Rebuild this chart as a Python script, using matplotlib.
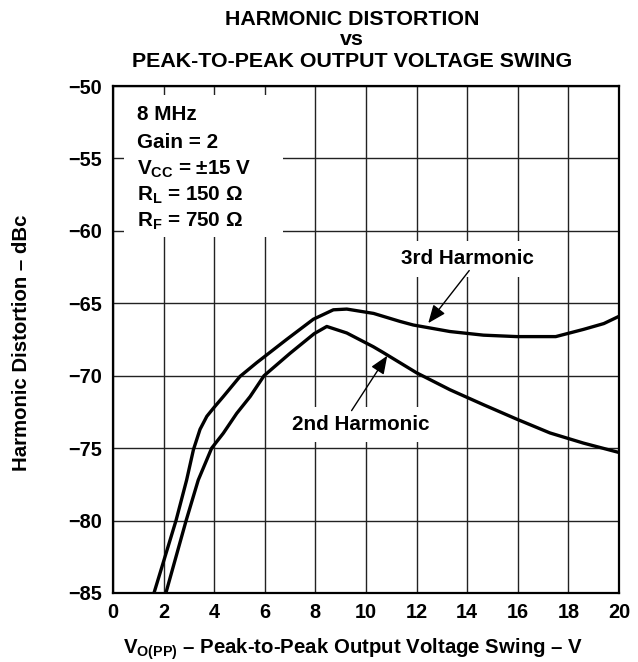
import matplotlib
matplotlib.use("Agg")
import matplotlib.pyplot as plt
from matplotlib.patches import Rectangle

# data
x_3rd = [1.62, 2.49, 2.91, 3.18, 3.44, 3.71, 3.97, 4.36, 5.02, 5.68, 6.86, 7.92, 8.71, 9.24,
         10.3, 11.34, 11.87, 13.32, 14.64, 15.96, 17.5, 18.6, 19.4, 20.0]
y_3rd = [-85, -80.0, -77.2, -75.1, -73.7, -72.8, -72.24, -71.44, -70.05, -69.1, -67.5, -66.1, -65.45, -65.4,
         -65.7, -66.25, -66.5, -66.95, -67.2, -67.3, -67.3, -66.8, -66.4, -65.9]

x_2nd = [2.09, 2.89, 3.37, 3.9, 4.36, 4.89, 5.42, 5.97, 7.0, 7.95, 8.45, 9.24, 10.29, 10.68,
         12.0, 13.32, 14.64, 15.96, 17.27, 18.59, 20.0]
y_2nd = [-85, -80.0, -77.2, -75.0, -73.97, -72.6, -71.44, -70.0, -68.45, -67.1, -66.6, -67.05, -68.0, -68.4,
         -69.8, -70.97, -72.0, -73.0, -73.95, -74.65, -75.3]

x_ticks = list(range(0, 21, 2))
y_ticks = [-85, -80, -75, -70, -65, -60, -55, -50]

title_lines = ["HARMONIC DISTORTION", "vs", "PEAK-TO-PEAK OUTPUT VOLTAGE SWING"]
cond_lines = ["8 MHz", "Gain = 2", r"V$_{\mathbf{CC}}$ = ±15 V",
              r"R$_{\mathbf{L}}$ = 150 Ω", r"R$_{\mathbf{F}}$ = 750 Ω"]

plt.rcParams["font.family"] = ["Liberation Sans", "DejaVu Sans"]
plt.rcParams["font.weight"] = "bold"
plt.rcParams["mathtext.fontset"] = "custom"
plt.rcParams["mathtext.rm"] = "Liberation Sans:bold"
plt.rcParams["mathtext.bf"] = "Liberation Sans:bold"
plt.rcParams["axes.unicode_minus"] = True

FS_TITLE = 15.4
FS_TEXT = 14.9
FS_TICK = 14.3
FS_LABEL = 14.7
W, H = 638, 662
fig = plt.figure(figsize=(W / 100, H / 100), dpi=100)
ax = fig.add_axes([113 / W, 1 - 593 / H, 506 / W, 507 / H])

ax.set_xlim(0, 20)
ax.set_ylim(-85, -50)
ax.set_xticks(x_ticks)
ax.set_yticks(y_ticks)
ax.tick_params(length=0, labelsize=FS_TICK)
ax.tick_params(axis="x", pad=7)
ax.tick_params(axis="y", pad=8)
ax.grid(True, color="#222222", linewidth=1.0)
ax.set_axisbelow(True)
for s in ax.spines.values():
    s.set_linewidth(1.6)

# white box behind the test conditions
ax.add_patch(Rectangle((0.45, -60.45), 6.25, 9.85, facecolor="white",
                       edgecolor="none", zorder=1.5))
cond_y = [-52.35, -54.3, -56.1, -57.87, -59.7]
for txt, yy in zip(cond_lines, cond_y):
    ax.text(0.95, yy, txt, fontsize=FS_TEXT, fontweight="bold", va="baseline", ha="left", zorder=5)

ax.plot(x_3rd, y_3rd, color="black", linewidth=2.4, solid_joinstyle="round",
        solid_capstyle="butt", zorder=3)
ax.plot(x_2nd, y_2nd, color="black", linewidth=2.4, solid_joinstyle="round",
        solid_capstyle="butt", zorder=3)

box = dict(boxstyle="square,pad=0.4", facecolor="white", edgecolor="none")
ax.text(13.99, -61.93, "3rd Harmonic", fontsize=FS_TEXT, fontweight="bold",
        ha="center", va="center", bbox=box, zorder=2)
ax.text(9.78, -73.38, "2nd Harmonic", fontsize=FS_TEXT, fontweight="bold",
        ha="center", va="center", bbox=box, zorder=2)

arrow = dict(arrowstyle="-|>,head_length=1.1,head_width=0.45", mutation_scale=10,
             color="black", linewidth=1.0, shrinkA=0, shrinkB=0)
ax.annotate("", xy=(12.46, -66.37), xytext=(14.08, -62.74), arrowprops=arrow, zorder=4)
ax.annotate("", xy=(10.84, -68.62), xytext=(9.43, -72.41), arrowprops=arrow, zorder=4)

title_base = [25, 45, 67]
for txt, yb in zip(title_lines, title_base):
    fig.text(352 / W, 1 - yb / H, txt, fontsize=FS_TITLE, fontweight="bold",
             ha="center", va="baseline")

fig.text(123 / W, 1 - 653.3 / H, r"V$_{\mathbf{O(PP)}}$ – Peak-to-Peak Output Voltage Swing – V",
         fontsize=FS_LABEL, fontweight="bold", ha="left", va="baseline")
fig.text(22 / W, 1 - 343 / H, "Harmonic Distortion – dBc", fontsize=FS_LABEL, fontweight="bold",
         rotation=90, ha="center", va="center")

fig.savefig("out.png", dpi=100)
